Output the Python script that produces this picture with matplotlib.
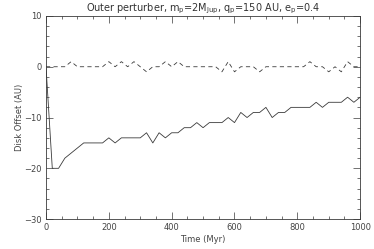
import numpy as np
import matplotlib
matplotlib.use('Agg')
import matplotlib.pyplot as plt
from matplotlib.ticker import MultipleLocator

# -- time grid (Myr) and disk offsets (AU)
time_myr = np.arange(0, 1001, 20)
offset_solid = [0, -20, -20, -18, -17, -16, -15, -15, -15, -15,
                -14, -15, -14, -14, -14, -14, -13, -15, -13, -14,
                -13, -13, -12, -12, -11, -12, -11, -11, -11, -10,
                -11, -9, -10, -9, -9, -8, -10, -9, -9, -8,
                -8, -8, -8, -7, -8, -7, -7, -7, -6, -7,
                -6]
offset_dashed = [0, 0, 0, 0, 1, 0, 0, 0, 0, 0,
                 1, 0, 1, 0, 1, 0, -1, 0, 0, 1,
                 0, 1, 0, 0, 0, 0, 0, 0, -1, 1,
                 -1, 0, 0, 0, -1, 0, 0, 0, 0, 0,
                 0, 0, 1, 0, 0, -1, 0, -1, 1, 0,
                 0]

title = 'Outer perturber, m$_\\mathregular{p}$=2M$_\\mathregular{Jup}$, q$_\\mathregular{p}$=150 AU, e$_\\mathregular{p}$=0.4'

plt.rcParams['font.family'] = ['DejaVu Sans']
fig = plt.figure(figsize=(3.74, 2.49), dpi=100)
ax = fig.add_axes([0.123, 0.12, 0.84, 0.816])

ax.plot(time_myr, offset_solid, color='#3a3a3a', lw=0.6)
ax.plot(time_myr, offset_dashed, color='#3a3a3a', lw=0.6, dashes=(5, 4))

ax.set_xlim(0, 1000)
ax.set_ylim(-30, 10)
ax.xaxis.set_major_locator(MultipleLocator(200))
ax.xaxis.set_minor_locator(MultipleLocator(50))
ax.yaxis.set_major_locator(MultipleLocator(10))
ax.yaxis.set_minor_locator(MultipleLocator(2))
ax.tick_params(which='both', direction='in', top=True, right=True,
               width=0.5, labelsize=6, colors='#3a3a3a', labelcolor='#444444', pad=3)
ax.tick_params(which='major', length=5)
ax.tick_params(which='minor', length=2.5)
for s in ax.spines.values():
    s.set_linewidth(0.6)
    s.set_color('#3a3a3a')

ax.set_xlabel('Time (Myr)', fontsize=6, color='#444444', labelpad=2)
ax.set_ylabel('Disk Offset (AU)', fontsize=6, color='#444444', labelpad=0)
ax.set_title(title, fontsize=7, color='#333333', pad=2)

fig.savefig('out.png', dpi=100)
